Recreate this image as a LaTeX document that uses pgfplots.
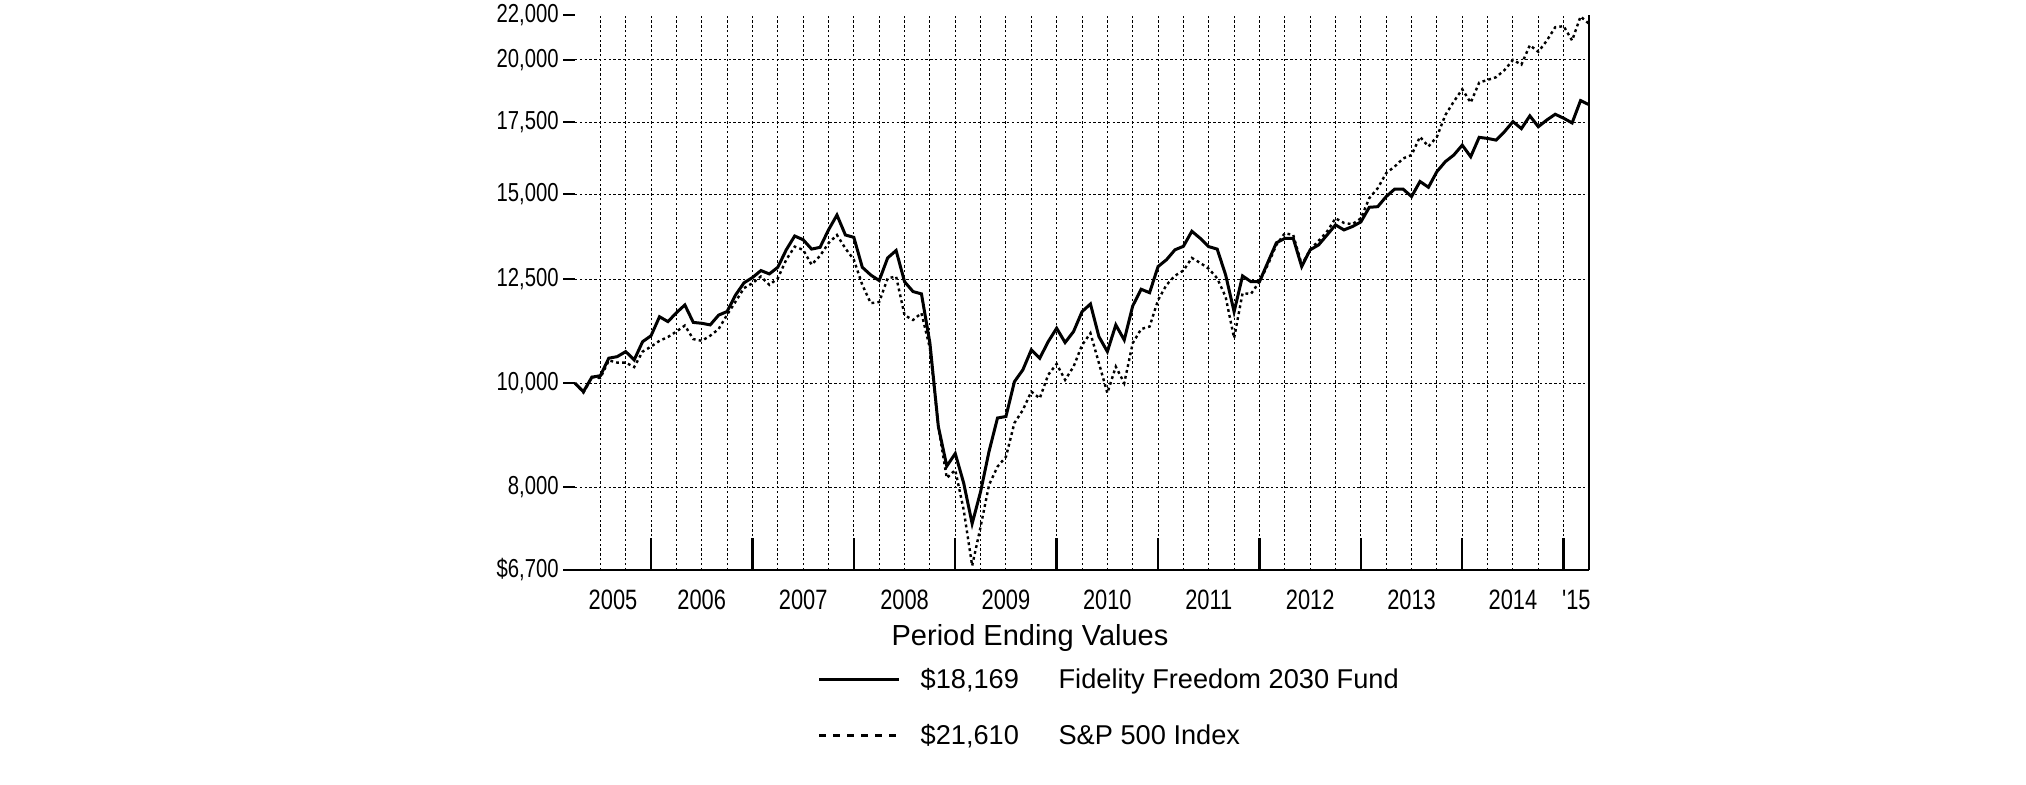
\documentclass[border=0pt]{standalone}
\usepackage{pgfplots}
\pgfplotsset{compat=1.18}
\usepackage{pgfplotstable}
\usepackage{fontspec}
\setmainfont{Liberation Sans}
\newfontfamily\narrowfont{Liberation Sans}[FakeStretch=0.78]

\pgfplotstableread{
m fund sp
0 10000 10000
1 9820 9800
2 10130 10130
3 10160 10110
4 10550 10500
5 10585 10450
6 10700 10450
7 10510 10350
8 10930 10700
9 11070 10815
10 11530 10950
11 11410 11040
12 11630 11170
13 11825 11315
14 11390 10990
15 11370 10950
16 11330 11070
17 11570 11230
18 11660 11580
19 12080 11910
20 12400 12260
21 12540 12390
22 12730 12570
23 12640 12345
24 12820 12520
25 13310 13030
26 13710 13400
27 13600 13310
28 13330 12890
29 13380 13140
30 13890 13500
31 14340 13740
32 13740 13350
33 13670 13030
34 12820 12345
35 12610 11870
36 12460 11900
37 13080 12520
38 13290 12570
39 12430 11570
40 12170 11450
41 12110 11620
42 10900 10780
43 9110 9110
44 8370 8160
45 8600 8300
46 8070 7620
47 7400 6760
48 7925 7350
49 8640 8040
50 9280 8360
51 9310 8540
52 10030 9180
53 10290 9440
54 10740 9820
55 10550 9680
56 10930 10180
57 11250 10420
58 10910 10070
59 11170 10360
60 11655 10850
61 11850 11130
62 11050 10440
63 10700 9790
64 11330 10360
65 10970 10000
66 11800 10895
67 12230 11230
68 12140 11290
69 12840 11950
70 13030 12345
71 13310 12590
72 13410 12730
73 13850 13080
74 13640 12940
75 13400 12780
76 13330 12520
77 12610 12030
78 11655 11015
79 12585 12125
80 12430 12110
81 12430 12430
82 12960 12890
83 13510 13450
84 13640 13790
85 13640 13740
86 12840 12890
87 13310 13310
88 13450 13570
89 13740 13840
90 14040 14240
91 13890 14100
92 13990 14060
93 14130 14240
94 14580 14870
95 14600 15190
96 14920 15690
97 15160 15910
98 15160 16190
99 14920 16310
100 15410 16960
101 15220 16610
102 15740 16960
103 16080 17770
104 16310 18290
105 16660 18780
106 16250 18250
107 16940 19050
108 16900 19160
109 16840 19270
110 17150 19570
111 17520 20000
112 17260 19800
113 17740 20640
114 17330 20350
115 17580 20840
116 17800 21450
117 17650 21500
118 17470 20850
119 18330 21950
120 18169 21610
}\datatable

\begin{document}
\begin{tikzpicture}
\path[use as bounding box] (0,0) rectangle (1013pt,392.5pt);
\begin{axis}[
  at={(287.5pt,107.5pt)}, anchor=south west,
  scale only axis, width=507pt, height=277.25pt,
  ymode=log, xmin=0, xmax=120, ymin=6700, ymax=22000,
  axis line style={draw=none},
  clip=false,
  ytick={6700,8000,10000,12500,15000,17500,20000,22000},
  yticklabels={{\$6,700},{8,000},{10,000},{12,500},{15,000},{17,500},{20,000},{22,000}},
  xtick={4.5,15,27,39,51,63,75,87,99,111,118.5},
  xticklabels={2005,2006,2007,2008,2009,2010,2011,2012,2013,2014,'15},
  xtick style={draw=none},
  ytick style={line width=1pt, black},
  ytick pos=left, xtick pos=left,
  tick align=outside, major tick length=6pt,
  minor xtick={3,6,...,117},
  minor ytick={8000,10000,12500,15000,17500,20000},
  xminorgrids=true, yminorgrids=true,
  minor tick length=0pt,
  minor grid style={black, line width=0.5pt, dash pattern=on 1.2pt off 1.2pt},
  tick label style={font=\narrowfont\fontsize{13}{13}\selectfont, text=black},
  yticklabel style={inner sep=2pt},
  xticklabel style={anchor=base, yshift=-13.8pt, font=\narrowfont\fontsize{14}{14}\selectfont},
  legend style={at={(0.2387,-0.1762)}, anchor=north west, draw=none, fill=none,
    inner sep=0pt, row sep=15.4pt, column sep=10pt,
    nodes={inner sep=0pt, text height=10pt, text depth=3pt,
      font=\fontsize{13.6}{13.6}\selectfont}},
  legend cell align=left,
  legend image code/.code={\draw[#1] (0pt,1pt) -- (40pt,1pt);},
]
\addplot[black, line width=1.2pt, dash pattern=on 1.4pt off 1.6pt, forget plot] table[x=m,y=sp]{\datatable};
\addplot[black, line width=1.5pt, forget plot] table[x=m,y=fund]{\datatable};
\draw[black, line width=1pt] (rel axis cs:0,0) -- (rel axis cs:1,0);
\draw[black, line width=0.8pt] (rel axis cs:1,0) -- (rel axis cs:1,1);
\pgfplotsinvokeforeach{9,21,33,45,57,69,81,93,105,117}{
  \draw[black, line width=1.2pt] (axis cs:#1,6700) -- ([yshift=16pt]axis cs:#1,6700);
}
\addlegendimage{black, line width=1.5pt}
\addlegendentry{\makebox[69pt][l]{\$18,169}Fidelity Freedom 2030 Fund}
\addlegendimage{black, line width=1.6pt, dash pattern=on 3.6pt off 3.4pt}
\addlegendentry{\makebox[69pt][l]{\$21,610}S\&P 500 Index}
\end{axis}
\node[anchor=base, font=\fontsize{14.5}{14.5}\selectfont] at (515pt,69.5pt) {Period Ending Values};
\end{tikzpicture}
\end{document}
